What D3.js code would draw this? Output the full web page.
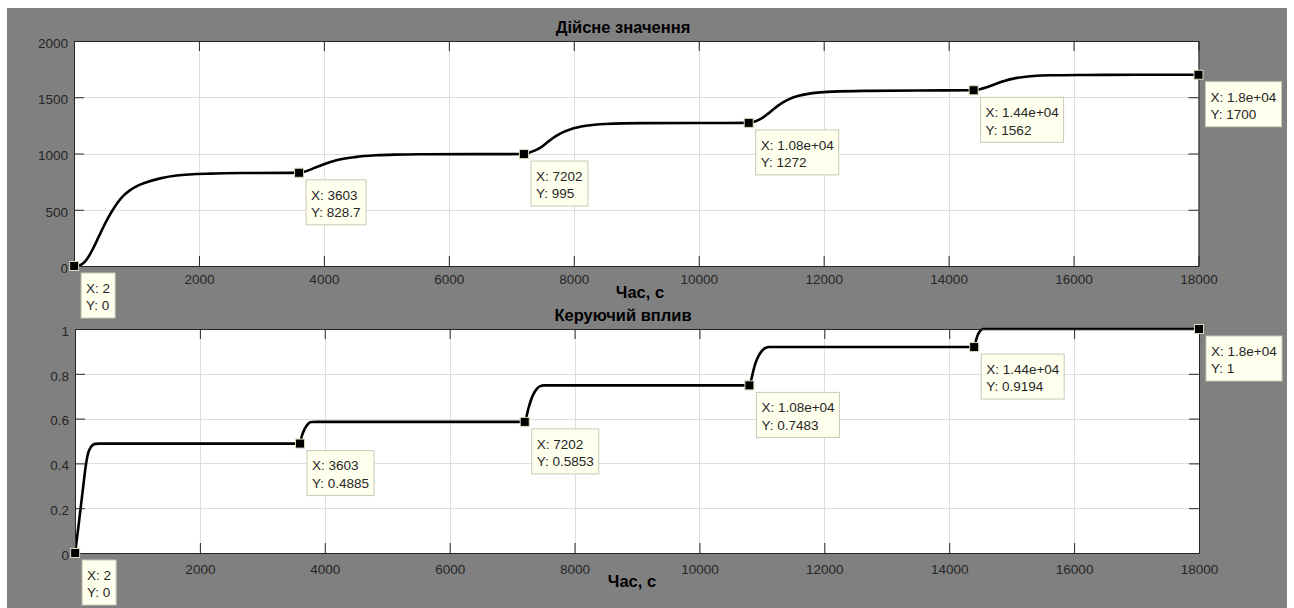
<!DOCTYPE html>
<html>
<head>
<meta charset="utf-8">
<script src="https://cdn.jsdelivr.net/npm/d3@7"></script>
<style>
  body { margin: 0; background: #fff; }
  svg { display: block; }
  text { font-family: "Liberation Sans", Arial, Helvetica, sans-serif; }
</style>
</head>
<body>
<svg id="fig" width="1294" height="608"></svg>
<script>
// ---- data --------------------------------------------------------------
// Common time axis ticks (seconds)
const xTicks = [0, 2000, 4000, 6000, 8000, 10000, 12000, 14000, 16000, 18000];

// Actual value (top panel)
const actualTime = [
  2, 100, 200, 300, 400, 500, 600, 700, 800, 900, 1000, 1150, 1380, 1640, 2180, 2800, 3603,
  3700, 3850, 4000, 4200, 4500, 4830, 5130, 5600, 6400, 7202,
  7300, 7461, 7600, 7706, 7830, 7951, 8196, 8502, 9115, 10000, 10800,
  10900, 11000, 11100, 11200, 11300, 11400, 11500, 11600, 11750, 11900, 12150, 12700, 13500, 14400,
  14500, 14610, 14824, 15091, 15358, 15626, 16160, 17000, 18000
];
const actualValue = [
  0, 8, 55, 150, 265, 380, 480, 565, 630, 675, 708, 742, 779, 805, 821, 826.5, 828.7,
  840, 872, 905, 940, 968, 984, 990, 993, 994.5, 995,
  1010, 1050, 1110, 1152, 1190, 1216, 1246, 1262, 1270, 1271.5, 1272,
  1285, 1310, 1350, 1395, 1437, 1470, 1495, 1513, 1530, 1541, 1550, 1557, 1560, 1562,
  1572, 1589, 1633, 1672, 1689, 1695, 1698, 1699.5, 1700
];
const actualTicks = [0, 500, 1000, 1500, 2000];

// Control action (bottom panel)
const controlTime = [
  2, 60, 120, 187, 215, 260, 320, 400, 3603,
  3630, 3680, 3735, 3790, 3900, 7202,
  7235, 7260, 7300, 7340, 7395, 7450, 7510, 7600, 10800,
  10835, 10860, 10900, 10940, 11000, 11055, 11120, 14400,
  14430, 14460, 14500, 14540, 18000
];
const controlValue = [
  0, 0.13, 0.27, 0.415, 0.45, 0.475, 0.487, 0.4885, 0.4885,
  0.52, 0.555, 0.577, 0.5845, 0.5853, 0.5853,
  0.615, 0.644, 0.681, 0.708, 0.733, 0.745, 0.7483, 0.7483, 0.7483,
  0.78, 0.81, 0.85, 0.876, 0.902, 0.915, 0.9194, 0.9194,
  0.95, 0.975, 0.993, 1, 1
];
const controlTicks = [0, 0.2, 0.4, 0.6, 0.8, 1];

// Data tips
const tipTime = [2, 3603, 7202, 10800, 14400, 18000];
const tipActual = [0, 828.7, 995, 1272, 1562, 1700];
const tipControl = [0, 0.4885, 0.5853, 0.7483, 0.9194, 1];

// ---- drawing -----------------------------------------------------------
const svg = d3.select("#fig");
svg.append("rect")
  .attr("x", 7).attr("y", 8).attr("width", 1280).attr("height", 600)
  .attr("fill", "#808080");

const TICK_FONT = 13.5;
const AXIS_COLOR = "#262626";

// Datatip number format: exponent form for large values
function tipFmt(v) {
  if (Math.abs(v) < 1e4) return String(v);
  let [m, e] = v.toExponential(2).split("e");
  m = m.replace(/\.?0+$/, "");
  const sign = e[0];
  const digits = e.slice(1).padStart(2, "0");
  return `${m}e${sign}${digits}`;
}

function panel(p) {
  const x = d3.scaleLinear().domain([0, 18000]).range([p.left, p.right]);
  const y = d3.scaleLinear().domain(p.yDomain).range([p.bottom, p.top]);
  const g = svg.append("g");
  const clipId = "clip-" + p.id;

  g.append("clipPath").attr("id", clipId)
    .append("rect")
    .attr("x", p.left).attr("y", p.top - 2)
    .attr("width", p.right - p.left).attr("height", p.bottom - p.top + 4);

  g.append("rect")
    .attr("x", p.left).attr("y", p.top)
    .attr("width", p.right - p.left).attr("height", p.bottom - p.top)
    .attr("fill", "#fff");

  // grid
  const grid = g.append("g").attr("stroke", "#dedede").attr("stroke-width", 1);
  grid.selectAll(".gx").data(xTicks.slice(1, -1)).join("line")
    .attr("x1", d => Math.round(x(d)) + 0.5).attr("x2", d => Math.round(x(d)) + 0.5)
    .attr("y1", p.top).attr("y2", p.bottom);
  grid.selectAll(".gy").data(p.yTicks.slice(1, -1)).join("line")
    .attr("y1", d => Math.round(y(d)) + 0.5).attr("y2", d => Math.round(y(d)) + 0.5)
    .attr("x1", p.left).attr("x2", p.right);

  // curve
  const line = d3.line()
    .x((d, i) => x(p.time[i]))
    .y(d => y(d))
    .curve(d3.curveMonotoneX);
  g.append("path")
    .datum(p.values)
    .attr("clip-path", `url(#${clipId})`)
    .attr("d", line)
    .attr("fill", "none")
    .attr("stroke", "#000")
    .attr("stroke-width", 2.6)
    .attr("stroke-linejoin", "round");

  // axes (ticks pointing inwards, box on)
  const styleAxis = sel => {
    sel.select(".domain").attr("stroke", AXIS_COLOR);
    sel.selectAll(".tick line").attr("stroke", AXIS_COLOR);
    sel.selectAll(".tick text")
      .attr("fill", "#262626")
      .attr("font-size", TICK_FONT)
      .attr("font-family", '"Liberation Sans", Arial, Helvetica, sans-serif');
  };

  g.append("g").attr("transform", `translate(0,${p.bottom})`)
    .call(d3.axisBottom(x).tickValues(xTicks).tickSize(-10).tickSizeOuter(0)
      .tickPadding(p.xPad).tickFormat(d => d === 0 ? "" : d3.format("d")(d)))
    .call(styleAxis);
  g.append("g").attr("transform", `translate(0,${p.top})`)
    .call(d3.axisTop(x).tickValues(xTicks).tickSize(-10).tickSizeOuter(0).tickFormat(""))
    .call(styleAxis);
  g.append("g").attr("transform", `translate(${p.left},0)`)
    .call(d3.axisLeft(y).tickValues(p.yTicks).tickSize(-10).tickSizeOuter(0)
      .tickPadding(6).tickFormat(d => String(d)))
    .call(styleAxis)
    .call(s => s.selectAll(".tick text").attr("dy", "0.47em"));
  g.append("g").attr("transform", `translate(${p.right},0)`)
    .call(d3.axisRight(y).tickValues(p.yTicks).tickSize(-10).tickSizeOuter(0).tickFormat(""))
    .call(styleAxis);

  // title and x label
  g.append("text")
    .attr("x", p.titleX).attr("y", p.titleY)
    .attr("text-anchor", "middle")
    .attr("font-weight", "bold").attr("font-size", 16.5).attr("fill", "#000")
    .text(p.title);
  g.append("text")
    .attr("x", p.labelX).attr("y", p.labelY)
    .attr("text-anchor", "middle")
    .attr("font-weight", "bold").attr("font-size", 16.5).attr("fill", "#000")
    .text("Час, с");

  // data tips
  p.tipY.forEach((v, i) => {
    const mx = x(tipTime[i]);
    const my = y(v);
    const tg = g.append("g");
    tg.append("rect")
      .attr("x", mx - 4.5).attr("y", my - 4.5)
      .attr("width", 9).attr("height", 9)
      .attr("fill", "#000").attr("stroke", "#d9d9c0").attr("stroke-width", 1);

    const bx = mx + 7, by = my + 7;
    const box = tg.append("rect")
      .attr("x", bx).attr("y", by).attr("height", 45)
      .attr("fill", "#ffffee").attr("stroke", "#c9c9b6").attr("stroke-width", 1);
    const t1 = tg.append("text")
      .attr("x", bx + 5).attr("y", by + 19.8)
      .attr("font-size", TICK_FONT).attr("fill", "#262626")
      .text("X: " + tipFmt(tipTime[i]));
    const t2 = tg.append("text")
      .attr("x", bx + 5).attr("y", by + 37.3)
      .attr("font-size", TICK_FONT).attr("fill", "#262626")
      .text("Y: " + tipFmt(v));
    const w = Math.max(t1.node().getComputedTextLength(), t2.node().getComputedTextLength());
    box.attr("width", Math.round(w + 10));
  });
}

panel({
  id: "actual", left: 74, right: 1198.5, top: 41, bottom: 266,
  yDomain: [0, 2000], yTicks: actualTicks,
  time: actualTime, values: actualValue, tipY: tipActual,
  xPad: 8, title: "Дійсне значення", titleX: 623, titleY: 32.5,
  labelX: 640, labelY: 298
});

panel({
  id: "control", left: 75, right: 1199, top: 329, bottom: 553,
  yDomain: [0, 1], yTicks: controlTicks,
  time: controlTime, values: controlValue, tipY: tipControl,
  xPad: 11.5, title: "Керуючий вплив", titleX: 623, titleY: 321,
  labelX: 632, labelY: 587
});
</script>
</body>
</html>
